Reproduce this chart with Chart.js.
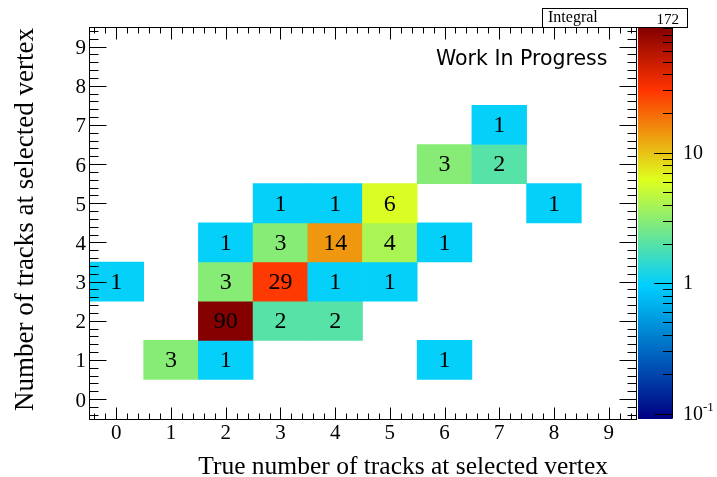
<!DOCTYPE html>
<html>
<head>
<meta charset="utf-8">
<script src="https://cdn.jsdelivr.net/npm/chart.js@4.4.0/dist/chart.umd.min.js"></script>
<style>
  body { margin: 0; background: #fff; }
  canvas { display: block; }
</style>
</head>
<body>
<canvas id="histo" width="717" height="477"></canvas>
<script>
const ticksX = [0, 1, 2, 3, 4, 5, 6, 7, 8, 9];
const ticksY = [0, 1, 2, 3, 4, 5, 6, 7, 8, 9];
const binX = [1, 2, 6, 2, 3, 4, 0, 2, 3, 4, 5, 2, 3, 4, 5, 6, 3, 4, 5, 8, 6, 7, 7];
const binY = [1, 1, 1, 2, 2, 2, 3, 3, 3, 3, 3, 4, 4, 4, 4, 4, 5, 5, 5, 5, 6, 6, 7];
const contagem = [3, 1, 1, 90, 2, 2, 1, 3, 29, 1, 1, 1, 3, 14, 4, 1, 1, 1, 6, 1, 3, 2, 1];
const ticksZ = [0.1, 1, 10];
const zMin = 0.0915;
const zMax = 92;

const tituloX = 'True number of tracks at selected vertex';
const tituloY = 'Number of tracks at selected vertex';
const rotulo = 'Work In Progress';

// paleta "pretty" do ROOT
const stops = [0, 0.34, 0.61, 0.84, 1];
const red = [0, 0, 0.87, 1, 0.51];
const green = [0, 0.81, 1, 0.2, 0];
const blue = [0.51, 1, 0.12, 0, 0];

function corPara(v) {
    let f = (Math.log10(v) - Math.log10(zMin)) / (Math.log10(zMax) - Math.log10(zMin));
    f = Math.max(0, Math.min(1, f));
    let i = 0;
    while (i < stops.length - 2 && f > stops[i + 1]) i++;
    const t = (f - stops[i]) / (stops[i + 1] - stops[i]);
    const r = Math.round(255 * (red[i] + t * (red[i + 1] - red[i])));
    const g = Math.round(255 * (green[i] + t * (green[i + 1] - green[i])));
    const b = Math.round(255 * (blue[i] + t * (blue[i + 1] - blue[i])));
    return 'rgb(' + r + ',' + g + ',' + b + ')';
}

const serif = "'Liberation Serif', 'Times New Roman', serif";
const integral = contagem.reduce((a, b) => a + b, 0);

const rootStyle = {
    id: 'rootStyle',
    afterDatasetsDraw(chart) {
        const ctx = chart.ctx;
        const meta = chart.getDatasetMeta(0);
        ctx.save();
        ctx.fillStyle = '#000';
        ctx.font = '24px ' + serif;
        ctx.textAlign = 'center';
        ctx.textBaseline = 'middle';
        meta.data.forEach((bar, i) => {
            ctx.fillText(String(contagem[i]), bar.x, (bar.y + bar.base) / 2 + 1);
        });
        ctx.restore();
    },
    afterDraw(chart) {
        const ctx = chart.ctx;
        const a = chart.chartArea;
        const xs = chart.scales.x;
        const ys = chart.scales.y;
        const zs = chart.scales.z;
        ctx.save();
        ctx.strokeStyle = '#000';
        ctx.lineWidth = 1;

        // moldura
        const L = Math.round(a.left) + 0.5, R = Math.round(a.right) + 0.5;
        const T = Math.round(a.top) + 0.5, B = Math.round(a.bottom) + 0.5;
        ctx.strokeRect(L, T, R - L, B - T);

        // marcas dos eixos (para dentro, em cima/baixo e esq/dir)
        ctx.beginPath();
        for (let k = -2; k <= 47; k++) {
            const v = k * 0.2;
            const major = k % 5 === 0;
            const px = Math.round(xs.getPixelForValue(v)) + 0.5;
            const lx = major ? 12 : 6;
            ctx.moveTo(px, B); ctx.lineTo(px, B - lx);
            ctx.moveTo(px, T); ctx.lineTo(px, T + lx);
            const py = Math.round(ys.getPixelForValue(v)) + 0.5;
            const ly = major ? 17 : 9;
            ctx.moveTo(L, py); ctx.lineTo(L + ly, py);
            ctx.moveTo(R, py); ctx.lineTo(R - ly, py);
        }
        ctx.stroke();

        // paleta de cores
        const pL = 638, pR = 672;
        for (let py = Math.floor(a.top); py < Math.ceil(a.bottom); py++) {
            ctx.fillStyle = corPara(zs.getValueForPixel(py + 0.5));
            ctx.fillRect(pL, py, pR - pL, 1);
        }
        ctx.beginPath();
        ctx.moveTo(pR + 0.5, a.top); ctx.lineTo(pR + 0.5, a.bottom);
        ticksZ.forEach(d => {
            for (let m = 1; m <= 9; m++) {
                const v = m * d;
                if (v < zMin || v > zMax) continue;
                const py = Math.round(zs.getPixelForValue(v)) + 0.5;
                ctx.moveTo(pR, py); ctx.lineTo(pR - (m === 1 ? 18 : 9), py);
            }
        });
        ctx.stroke();

        ctx.fillStyle = '#000';
        ctx.textBaseline = 'middle';
        ctx.textAlign = 'left';
        ticksZ.forEach(v => {
            const py = zs.getPixelForValue(v);
            const exp = Math.round(Math.log10(v));
            ctx.font = '20px ' + serif;
            if (exp === 0) {
                ctx.fillText('1', 683, py + 1);
            } else if (exp === 1) {
                ctx.fillText('10', 683, py + 1);
            } else {
                ctx.fillText('10', 683, py + 1);
                const w = ctx.measureText('10').width;
                ctx.font = '13px ' + serif;
                ctx.fillText(String(exp), 683 + w, py - 6);
            }
        });

        // caixa do integral
        ctx.fillStyle = '#fff';
        ctx.fillRect(542, 8, 145, 19);
        ctx.strokeRect(542.5, 8.5, 145, 19);
        ctx.fillStyle = '#000';
        ctx.textBaseline = 'alphabetic';
        ctx.font = '16px ' + serif;
        ctx.fillText('Integral', 548, 22);
        ctx.textAlign = 'right';
        ctx.font = '15px ' + serif;
        ctx.fillText(String(integral), 679, 24);

        // texto
        ctx.textAlign = 'left';
        ctx.font = "20.5px 'DejaVu Sans', sans-serif";
        ctx.fillText(rotulo, 436, 65);

        // titulos dos eixos
        ctx.font = '25.5px ' + serif;
        ctx.textAlign = 'right';
        ctx.fillText(tituloX, 608, 474);
        ctx.translate(33, 28);
        ctx.rotate(-Math.PI / 2);
        ctx.font = '27px ' + serif;
        ctx.fillText(tituloY, 0, 0);
        ctx.restore();
    }
};

const fonteTicks = { family: serif, size: 21 };

new Chart(document.getElementById('histo'), {
    type: 'bar',
    data: {
        datasets: [{
            data: binX.map((x, i) => ({ x: x, y: [binY[i] - 0.5, binY[i] + 0.5] })),
            backgroundColor: ctx => corPara(contagem[ctx.dataIndex]),
            borderWidth: 0,
            barPercentage: 1,
            categoryPercentage: 1,
            grouped: false
        }]
    },
    options: {
        responsive: false,
        animation: false,
        layout: { padding: { left: 0, top: 27, right: 81, bottom: 0 } },
        plugins: { legend: { display: false }, tooltip: { enabled: false } },
        scales: {
            x: {
                type: 'linear',
                min: -0.5,
                max: 9.5,
                offset: false,
                afterBuildTicks: s => { s.ticks = ticksX.map(v => ({ value: v })); },
                afterFit: s => { s.height = 58.3; },
                grid: { display: false, drawTicks: false, tickLength: 0 },
                border: { display: false },
                ticks: { font: fonteTicks, color: '#000', padding: 2, maxRotation: 0 }
            },
            y: {
                type: 'linear',
                min: -0.5,
                max: 9.5,
                afterBuildTicks: s => { s.ticks = ticksY.map(v => ({ value: v })); },
                afterFit: s => { s.width = 89; },
                grid: { display: false, drawTicks: false, tickLength: 0 },
                border: { display: false },
                ticks: { font: fonteTicks, color: '#000', padding: 3, labelOffset: 2 }
            },
            z: {
                type: 'logarithmic',
                axis: 'y',
                position: 'right',
                display: false,
                min: zMin,
                max: zMax
            }
        }
    },
    plugins: [rootStyle]
});
</script>
</body>
</html>
